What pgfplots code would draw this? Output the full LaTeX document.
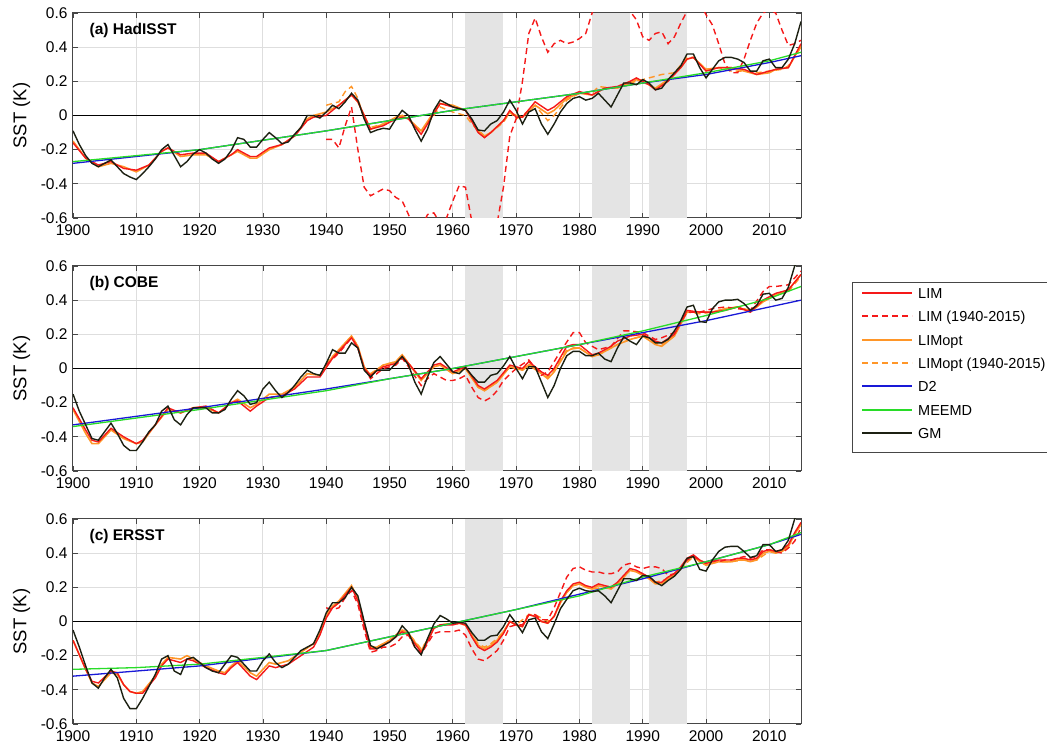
\documentclass[border=0pt]{standalone}
\usepackage{fontspec}
\setmainfont{Liberation Sans}
\usepackage{pgfplots}
\usepackage{pgfplotstable}
\pgfplotsset{compat=1.18}
\definecolor{limred}{RGB}{245,25,25}
\definecolor{limorange}{RGB}{255,150,40}
\definecolor{dtwoblue}{RGB}{25,25,215}
\definecolor{meemdgreen}{RGB}{40,220,40}
\definecolor{gmblack}{RGB}{28,32,18}
\definecolor{bandgray}{RGB}{228,228,228}
\definecolor{gridgray}{RGB}{222,222,222}
\definecolor{axgray}{RGB}{70,70,70}
\pgfplotsset{
  panel/.style={
    scale only axis, width=728pt, height=205pt,
    xmin=1900, xmax=2015, ymin=-0.6, ymax=0.6,
    xtick={1900,1910,...,2010},
    ytick={-0.6,-0.4,-0.2,0,0.2,0.4,0.6},
    yticklabels={-0.6,-0.4,-0.2,0,0.2,0.4,0.6},
    xticklabel style={/pgf/number format/1000 sep={}, yshift=-3pt},
    yticklabel style={xshift=-2pt},
    /pgf/number format/assume math mode=true,
    ticklabel style={font=\fontsize{15.5}{18}\selectfont},
    xtick pos=both, ytick pos=both, tick align=inside,
    major tick length=5pt,
    every tick/.style={axgray, line width=0.8pt},
    grid=major, major grid style={gridgray, line width=1pt},
    axis line style={axgray, line width=1pt},
    ylabel={SST (K)},
    every axis y label/.style={at={(axis description cs:-0.0707,0.5)}, rotate=90, anchor=center, font=\fontsize{18.5}{20}\selectfont},
    clip=true,
  },
  lim/.style={color=limred, line width=1.4pt, solid, forget plot},
  limd/.style={color=limred, line width=1.4pt, dash pattern=on 6pt off 4pt, forget plot},
  limo/.style={color=limorange, line width=1.6pt, solid, forget plot},
  limod/.style={color=limorange, line width=1.4pt, dash pattern=on 6pt off 4pt, forget plot},
  dtwo/.style={color=dtwoblue, line width=1.3pt, solid, forget plot},
  meemd/.style={color=meemdgreen, line width=1.3pt, solid, forget plot},
  gm/.style={color=gmblack, line width=1.4pt, solid, forget plot},
  band/.style={fill=bandgray, draw=none, forget plot},
}
\newcommand{\bands}{%
  \addplot[band] coordinates {(1962,-0.6) (1968,-0.6) (1968,0.6) (1962,0.6)} -- cycle;
  \addplot[band] coordinates {(1982,-0.6) (1988,-0.6) (1988,0.6) (1982,0.6)} -- cycle;
  \addplot[band] coordinates {(1991,-0.6) (1997,-0.6) (1997,0.6) (1991,0.6)} -- cycle;
  \addplot[black, line width=1.5pt, forget plot] coordinates {(1900,0) (2015,0)};
}
\begin{document}
\begin{tikzpicture}
\path[use as bounding box] (0,0) rectangle (1047pt,752pt);
% ---------------- (a) HadISST ----------------
\begin{axis}[panel, at={(73pt,534pt)}, anchor=south west]
\bands
\addplot[limod] coordinates {(1940,0.06) (1941,0.07) (1942,0.08) (1943,0.14) (1944,0.17) (1945,0.10) (1946,-0.02) (1947,-0.07) (1949,-0.05) (1951,-0.02) (1952,0.0) (1953,-0.02) (1955,-0.10) (1957,0.0) (1958,0.05) (1960,0.02) (1962,0.0) (1963,-0.05) (1965,-0.12) (1966,-0.10) (1968,-0.04) (1969,0.02) (1970,-0.02) (1971,0.0) (1973,0.06) (1975,-0.03) (1976,0.0) (1978,0.09) (1980,0.13) (1982,0.13) (1983,0.17) (1985,0.16) (1987,0.18) (1989,0.20) (1991,0.22) (1993,0.24) (1995,0.25) (1997,0.34) (1998,0.34) (2000,0.27) (2002,0.28) (2004,0.26) (2006,0.26) (2008,0.25) (2010,0.26) (2012,0.27) (2013,0.29) (2015,0.40)};
\addplot[limo] coordinates {(1900,-0.15) (1902,-0.25) (1904,-0.30) (1906,-0.28) (1908,-0.30) (1910,-0.33) (1912,-0.29) (1914,-0.21) (1915,-0.19) (1917,-0.24) (1919,-0.23) (1921,-0.23) (1923,-0.27) (1925,-0.23) (1926,-0.21) (1928,-0.25) (1929,-0.25) (1931,-0.20) (1933,-0.17) (1935,-0.12) (1937,-0.02) (1938,0.0) (1940,0.02) (1942,0.06) (1944,0.12) (1945,0.08) (1947,-0.08) (1949,-0.05) (1951,-0.01) (1952,0.0) (1953,-0.02) (1955,-0.09) (1957,0.02) (1958,0.07) (1960,0.06) (1962,0.03) (1964,-0.09) (1965,-0.12) (1966,-0.10) (1968,-0.03) (1969,0.02) (1970,0.0) (1971,-0.01) (1973,0.06) (1975,0.01) (1976,0.03) (1978,0.10) (1980,0.13) (1982,0.12) (1984,0.16) (1986,0.16) (1988,0.19) (1989,0.21) (1991,0.18) (1992,0.16) (1994,0.21) (1996,0.28) (1997,0.33) (1998,0.34) (2000,0.27) (2002,0.28) (2004,0.28) (2006,0.26) (2008,0.24) (2010,0.25) (2011,0.27) (2013,0.28) (2015,0.41)};
\addplot[limd] coordinates {(1940,-0.14) (1941,-0.14) (1942,-0.19) (1943,-0.06) (1944,0.05) (1945,-0.20) (1946,-0.42) (1947,-0.47) (1948,-0.45) (1949,-0.43) (1950,-0.44) (1951,-0.48) (1952,-0.50) (1953,-0.58) (1954,-0.68) (1955,-0.66) (1956,-0.58) (1957,-0.57) (1958,-0.63) (1959,-0.60) (1960,-0.50) (1961,-0.41) (1962,-0.42) (1963,-0.62) (1964,-0.75) (1965,-0.78) (1966,-0.74) (1967,-0.63) (1968,-0.42) (1969,-0.12) (1970,-0.02) (1971,0.20) (1972,0.48) (1973,0.57) (1974,0.46) (1975,0.37) (1976,0.42) (1977,0.44) (1978,0.42) (1979,0.43) (1980,0.45) (1981,0.48) (1982,0.60) (1983,0.70) (1984,0.75) (1985,0.72) (1986,0.70) (1987,0.65) (1988,0.61) (1989,0.56) (1990,0.46) (1991,0.44) (1992,0.48) (1993,0.49) (1994,0.42) (1995,0.46) (1996,0.54) (1997,0.61) (1998,0.68) (1999,0.66) (2000,0.59) (2001,0.53) (2002,0.42) (2003,0.30) (2004,0.25) (2005,0.25) (2006,0.33) (2007,0.44) (2008,0.54) (2009,0.60) (2010,0.62) (2011,0.60) (2012,0.50) (2013,0.41) (2014,0.42) (2015,0.44)};
\addplot[lim] coordinates {(1900,-0.16) (1902,-0.25) (1904,-0.29) (1906,-0.27) (1908,-0.31) (1910,-0.32) (1912,-0.29) (1914,-0.21) (1915,-0.19) (1917,-0.23) (1919,-0.22) (1921,-0.22) (1923,-0.27) (1925,-0.23) (1926,-0.20) (1928,-0.24) (1929,-0.24) (1931,-0.19) (1933,-0.17) (1935,-0.12) (1937,-0.03) (1938,-0.01) (1940,0.0) (1942,0.06) (1944,0.12) (1945,0.08) (1947,-0.08) (1949,-0.06) (1951,-0.02) (1952,-0.01) (1953,-0.02) (1955,-0.11) (1957,0.01) (1958,0.07) (1960,0.05) (1962,0.03) (1964,-0.10) (1965,-0.13) (1966,-0.10) (1968,-0.03) (1969,0.03) (1970,-0.01) (1971,-0.01) (1973,0.08) (1975,0.03) (1976,0.05) (1978,0.11) (1980,0.14) (1982,0.12) (1984,0.16) (1986,0.17) (1988,0.20) (1989,0.22) (1991,0.18) (1992,0.15) (1994,0.20) (1996,0.28) (1997,0.33) (1998,0.34) (2000,0.26) (2002,0.28) (2004,0.28) (2006,0.27) (2008,0.24) (2010,0.26) (2011,0.27) (2013,0.28) (2015,0.42)};
\addplot[dtwo] coordinates {(1900,-0.28) (1920,-0.20) (1940,-0.09) (1960,0.03) (1970,0.08) (1980,0.13) (1990,0.19) (2000,0.24) (2010,0.31) (2015,0.35)};
\addplot[meemd] coordinates {(1900,-0.27) (1920,-0.20) (1940,-0.09) (1960,0.03) (1970,0.08) (1980,0.13) (1990,0.19) (2000,0.25) (2010,0.32) (2015,0.37)};
\addplot[gm] coordinates {(1900,-0.09) (1901,-0.17) (1902,-0.235) (1903,-0.28) (1904,-0.30) (1905,-0.28) (1906,-0.26) (1907,-0.30) (1908,-0.34) (1909,-0.36) (1910,-0.375) (1911,-0.34) (1912,-0.30) (1913,-0.255) (1914,-0.20) (1915,-0.17) (1916,-0.235) (1917,-0.30) (1918,-0.27) (1919,-0.225) (1920,-0.20) (1921,-0.22) (1922,-0.255) (1923,-0.28) (1924,-0.255) (1925,-0.205) (1926,-0.13) (1927,-0.14) (1928,-0.185) (1929,-0.185) (1930,-0.14) (1931,-0.10) (1932,-0.13) (1933,-0.165) (1934,-0.155) (1935,-0.11) (1936,-0.07) (1937,0.0) (1938,0.0) (1939,-0.015) (1940,0.02) (1941,0.06) (1942,0.04) (1943,0.08) (1944,0.13) (1945,0.09) (1946,-0.02) (1947,-0.10) (1948,-0.085) (1949,-0.075) (1950,-0.08) (1951,-0.02) (1952,0.03) (1953,0.0) (1954,-0.08) (1955,-0.15) (1956,-0.08) (1957,0.03) (1958,0.09) (1959,0.07) (1960,0.05) (1961,0.04) (1962,0.03) (1963,-0.02) (1964,-0.085) (1965,-0.09) (1966,-0.05) (1967,-0.03) (1968,0.02) (1969,0.09) (1970,0.03) (1971,-0.05) (1972,0.02) (1973,0.04) (1974,-0.05) (1975,-0.11) (1976,-0.05) (1977,0.02) (1978,0.07) (1979,0.10) (1980,0.11) (1981,0.09) (1982,0.10) (1983,0.13) (1984,0.09) (1985,0.05) (1986,0.12) (1987,0.19) (1988,0.19) (1989,0.18) (1990,0.21) (1991,0.19) (1992,0.15) (1993,0.16) (1994,0.21) (1995,0.25) (1996,0.29) (1997,0.36) (1998,0.36) (1999,0.28) (2000,0.22) (2001,0.27) (2002,0.32) (2003,0.34) (2004,0.34) (2005,0.33) (2006,0.31) (2007,0.26) (2008,0.26) (2009,0.32) (2010,0.33) (2011,0.28) (2012,0.28) (2013,0.33) (2014,0.42) (2015,0.55)};
\node[anchor=west, font=\bfseries\fontsize{15.5}{18}\selectfont] at (rel axis cs:0.018,0.917) {(a) HadISST};
\end{axis}
% ---------------- (b) COBE ----------------
\begin{axis}[panel, at={(73pt,281pt)}, anchor=south west]
\bands
\addplot[limod] coordinates {(1940,0.03) (1942,0.10) (1944,0.19) (1945,0.13) (1946,0.0) (1947,-0.03) (1949,0.02) (1951,0.04) (1952,0.08) (1953,0.03) (1955,-0.06) (1957,0.01) (1958,0.02) (1960,-0.03) (1962,0.0) (1964,-0.11) (1965,-0.13) (1967,-0.08) (1969,0.01) (1971,-0.01) (1972,0.03) (1974,-0.03) (1975,-0.05) (1976,-0.01) (1978,0.11) (1980,0.12) (1982,0.07) (1983,0.08) (1985,0.12) (1986,0.14) (1988,0.17) (1990,0.19) (1992,0.15) (1993,0.14) (1995,0.19) (1997,0.33) (1999,0.32) (2001,0.33) (2003,0.35) (2005,0.36) (2007,0.34) (2009,0.40) (2011,0.43) (2013,0.45) (2015,0.54)};
\addplot[limo] coordinates {(1900,-0.24) (1902,-0.38) (1903,-0.44) (1904,-0.44) (1906,-0.36) (1908,-0.41) (1910,-0.44) (1911,-0.43) (1913,-0.33) (1915,-0.24) (1917,-0.26) (1919,-0.23) (1921,-0.23) (1923,-0.26) (1925,-0.20) (1926,-0.18) (1928,-0.23) (1929,-0.21) (1931,-0.15) (1933,-0.15) (1935,-0.11) (1937,-0.03) (1939,-0.04) (1941,0.07) (1942,0.11) (1944,0.19) (1945,0.13) (1946,0.01) (1947,-0.04) (1949,0.02) (1951,0.04) (1952,0.08) (1953,0.03) (1955,-0.07) (1957,0.01) (1958,0.02) (1960,-0.03) (1962,0.0) (1964,-0.11) (1965,-0.13) (1967,-0.08) (1969,0.01) (1971,-0.01) (1972,0.02) (1974,-0.03) (1975,-0.06) (1976,-0.02) (1978,0.10) (1979,0.12) (1980,0.12) (1982,0.07) (1983,0.08) (1985,0.12) (1986,0.14) (1988,0.17) (1990,0.19) (1992,0.14) (1993,0.13) (1995,0.19) (1997,0.33) (1999,0.33) (2001,0.33) (2003,0.35) (2005,0.36) (2007,0.33) (2009,0.39) (2011,0.43) (2013,0.46) (2015,0.55)};
\addplot[limd] coordinates {(1940,0.02) (1942,0.09) (1944,0.18) (1945,0.12) (1946,0.0) (1947,-0.06) (1949,0.0) (1951,0.02) (1952,0.06) (1953,0.01) (1955,-0.10) (1956,-0.06) (1957,-0.03) (1959,-0.07) (1960,-0.07) (1961,-0.06) (1962,-0.04) (1963,-0.11) (1964,-0.17) (1965,-0.19) (1966,-0.17) (1967,-0.13) (1968,-0.07) (1970,0.0) (1972,0.05) (1974,-0.04) (1975,-0.02) (1977,0.10) (1979,0.21) (1980,0.21) (1981,0.15) (1983,0.11) (1985,0.13) (1987,0.22) (1988,0.22) (1990,0.21) (1992,0.17) (1993,0.18) (1995,0.21) (1997,0.33) (1999,0.33) (2001,0.35) (2003,0.36) (2005,0.35) (2007,0.34) (2009,0.45) (2010,0.48) (2011,0.48) (2013,0.49) (2015,0.57)};
\addplot[lim] coordinates {(1900,-0.23) (1902,-0.36) (1903,-0.42) (1904,-0.43) (1906,-0.35) (1908,-0.40) (1910,-0.44) (1911,-0.42) (1913,-0.33) (1915,-0.23) (1917,-0.26) (1919,-0.23) (1921,-0.22) (1923,-0.26) (1925,-0.20) (1926,-0.19) (1928,-0.25) (1929,-0.22) (1931,-0.17) (1933,-0.16) (1935,-0.12) (1937,-0.05) (1939,-0.05) (1941,0.06) (1942,0.10) (1944,0.18) (1945,0.12) (1946,0.0) (1947,-0.04) (1949,0.01) (1951,0.03) (1952,0.07) (1953,0.03) (1955,-0.06) (1957,0.02) (1958,0.03) (1960,-0.02) (1962,0.01) (1964,-0.10) (1965,-0.12) (1967,-0.07) (1969,0.02) (1971,0.0) (1972,0.04) (1974,-0.02) (1975,-0.04) (1976,0.0) (1978,0.13) (1979,0.14) (1980,0.14) (1982,0.08) (1983,0.09) (1985,0.13) (1986,0.16) (1988,0.19) (1990,0.20) (1992,0.16) (1993,0.15) (1995,0.20) (1997,0.34) (1999,0.33) (2001,0.33) (2003,0.34) (2005,0.36) (2007,0.33) (2009,0.40) (2011,0.44) (2013,0.46) (2015,0.55)};
\addplot[dtwo] coordinates {(1900,-0.33) (1920,-0.23) (1940,-0.12) (1950,-0.06) (1960,0.0) (1970,0.07) (1980,0.14) (1990,0.21) (2000,0.28) (2010,0.36) (2015,0.40)};
\addplot[meemd] coordinates {(1900,-0.34) (1920,-0.24) (1940,-0.13) (1950,-0.06) (1960,0.0) (1970,0.07) (1980,0.14) (1990,0.22) (2000,0.31) (2010,0.41) (2015,0.48)};
\addplot[gm] coordinates {(1900,-0.15) (1901,-0.25) (1902,-0.33) (1903,-0.41) (1904,-0.42) (1905,-0.37) (1906,-0.32) (1907,-0.38) (1908,-0.45) (1909,-0.48) (1910,-0.48) (1911,-0.43) (1912,-0.37) (1913,-0.33) (1914,-0.25) (1915,-0.22) (1916,-0.30) (1917,-0.33) (1918,-0.27) (1919,-0.23) (1920,-0.23) (1921,-0.23) (1922,-0.26) (1923,-0.26) (1924,-0.24) (1925,-0.18) (1926,-0.13) (1927,-0.16) (1928,-0.21) (1929,-0.20) (1930,-0.12) (1931,-0.08) (1932,-0.13) (1933,-0.17) (1934,-0.14) (1935,-0.10) (1936,-0.05) (1937,-0.01) (1938,-0.03) (1939,-0.04) (1940,0.03) (1941,0.11) (1942,0.09) (1943,0.09) (1944,0.15) (1945,0.12) (1946,-0.01) (1947,-0.05) (1948,-0.01) (1949,-0.01) (1950,-0.01) (1951,0.03) (1952,0.07) (1953,0.02) (1954,-0.08) (1955,-0.15) (1956,-0.05) (1957,0.035) (1958,0.07) (1959,0.025) (1960,-0.02) (1961,-0.03) (1962,0.005) (1963,-0.04) (1964,-0.08) (1965,-0.08) (1966,-0.04) (1967,-0.03) (1968,0.015) (1969,0.07) (1970,0.0) (1971,-0.06) (1972,0.01) (1973,0.01) (1974,-0.08) (1975,-0.17) (1976,-0.10) (1977,0.0) (1978,0.075) (1979,0.10) (1980,0.10) (1981,0.075) (1982,0.075) (1983,0.09) (1984,0.055) (1985,0.04) (1986,0.12) (1987,0.185) (1988,0.16) (1989,0.14) (1990,0.19) (1991,0.18) (1992,0.15) (1993,0.15) (1994,0.17) (1995,0.22) (1996,0.28) (1997,0.36) (1998,0.37) (1999,0.275) (2000,0.27) (2001,0.35) (2002,0.39) (2003,0.40) (2004,0.40) (2005,0.405) (2006,0.38) (2007,0.34) (2008,0.37) (2009,0.435) (2010,0.44) (2011,0.40) (2012,0.41) (2013,0.475) (2014,0.60) (2015,0.65)};
\node[anchor=west, font=\bfseries\fontsize{15.5}{18}\selectfont] at (rel axis cs:0.018,0.917) {(b) COBE};
\end{axis}
% ---------------- (c) ERSST ----------------
\begin{axis}[panel, at={(73pt,28pt)}, anchor=south west]
\bands
\addplot[limod] coordinates {(1940,0.05) (1941,0.08) (1942,0.11) (1943,0.15) (1944,0.21) (1945,0.13) (1946,-0.03) (1947,-0.15) (1948,-0.15) (1950,-0.11) (1952,-0.05) (1953,-0.07) (1955,-0.16) (1956,-0.11) (1957,-0.04) (1958,-0.02) (1960,-0.01) (1962,-0.02) (1963,-0.08) (1964,-0.13) (1965,-0.15) (1966,-0.13) (1967,-0.10) (1968,-0.06) (1969,0.0) (1970,-0.02) (1972,0.04) (1973,0.04) (1975,0.0) (1976,0.03) (1977,0.11) (1978,0.17) (1979,0.21) (1980,0.22) (1982,0.19) (1984,0.20) (1986,0.22) (1988,0.30) (1990,0.28) (1992,0.23) (1994,0.25) (1996,0.31) (1998,0.38) (2000,0.33) (2002,0.35) (2004,0.35) (2006,0.36) (2008,0.36) (2010,0.41) (2012,0.41) (2013,0.44) (2015,0.57)};
\addplot[limo] coordinates {(1900,-0.11) (1902,-0.28) (1903,-0.36) (1904,-0.38) (1906,-0.30) (1907,-0.31) (1908,-0.37) (1909,-0.41) (1910,-0.42) (1911,-0.41) (1913,-0.32) (1914,-0.25) (1915,-0.21) (1917,-0.22) (1918,-0.20) (1919,-0.22) (1921,-0.26) (1923,-0.29) (1924,-0.30) (1925,-0.26) (1926,-0.23) (1928,-0.30) (1929,-0.32) (1931,-0.24) (1932,-0.25) (1934,-0.23) (1936,-0.18) (1938,-0.13) (1939,-0.07) (1940,0.03) (1941,0.09) (1942,0.12) (1944,0.21) (1945,0.13) (1947,-0.15) (1948,-0.15) (1950,-0.11) (1952,-0.05) (1953,-0.07) (1955,-0.17) (1956,-0.11) (1957,-0.04) (1958,-0.02) (1960,-0.01) (1961,-0.01) (1962,-0.02) (1963,-0.08) (1964,-0.14) (1965,-0.16) (1966,-0.14) (1967,-0.11) (1968,-0.06) (1969,0.0) (1970,-0.02) (1971,-0.03) (1972,0.04) (1973,0.03) (1974,0.0) (1975,-0.01) (1976,0.03) (1977,0.11) (1978,0.17) (1979,0.21) (1980,0.22) (1981,0.20) (1982,0.19) (1983,0.21) (1984,0.20) (1985,0.19) (1986,0.22) (1987,0.26) (1988,0.30) (1989,0.29) (1990,0.27) (1991,0.25) (1992,0.22) (1993,0.22) (1994,0.25) (1995,0.27) (1996,0.31) (1997,0.36) (1998,0.38) (1999,0.35) (2000,0.33) (2001,0.34) (2002,0.35) (2003,0.35) (2004,0.35) (2005,0.36) (2006,0.36) (2007,0.35) (2008,0.36) (2009,0.40) (2010,0.41) (2011,0.40) (2012,0.41) (2013,0.44) (2014,0.51) (2015,0.57)};
\addplot[limd] coordinates {(1940,0.08) (1941,0.07) (1942,0.08) (1943,0.14) (1944,0.18) (1945,0.10) (1946,-0.05) (1947,-0.18) (1948,-0.17) (1949,-0.15) (1950,-0.15) (1951,-0.13) (1952,-0.09) (1953,-0.08) (1954,-0.15) (1955,-0.19) (1956,-0.13) (1957,-0.07) (1958,-0.06) (1959,-0.06) (1960,-0.06) (1961,-0.05) (1962,-0.08) (1963,-0.16) (1964,-0.22) (1965,-0.23) (1966,-0.20) (1967,-0.17) (1968,-0.11) (1969,-0.03) (1970,-0.02) (1971,-0.02) (1972,0.04) (1973,0.04) (1974,0.01) (1975,0.01) (1976,0.08) (1977,0.17) (1978,0.26) (1979,0.31) (1980,0.32) (1981,0.30) (1982,0.29) (1983,0.29) (1984,0.28) (1985,0.28) (1986,0.29) (1987,0.33) (1988,0.34) (1989,0.32) (1990,0.31) (1991,0.32) (1992,0.32) (1993,0.31) (1994,0.27) (1995,0.28) (1996,0.31) (1997,0.36) (1998,0.38) (1999,0.36) (2000,0.34) (2001,0.36) (2002,0.35) (2003,0.36) (2004,0.36) (2005,0.37) (2006,0.38) (2007,0.37) (2008,0.38) (2009,0.42) (2010,0.42) (2011,0.41) (2012,0.40) (2013,0.43) (2014,0.47) (2015,0.55)};
\addplot[lim] coordinates {(1900,-0.11) (1902,-0.28) (1903,-0.35) (1904,-0.36) (1906,-0.29) (1907,-0.30) (1908,-0.37) (1909,-0.41) (1910,-0.42) (1911,-0.42) (1913,-0.33) (1914,-0.26) (1915,-0.22) (1917,-0.24) (1918,-0.22) (1919,-0.23) (1921,-0.27) (1923,-0.30) (1924,-0.31) (1925,-0.27) (1926,-0.24) (1928,-0.32) (1929,-0.34) (1931,-0.26) (1932,-0.27) (1934,-0.25) (1936,-0.20) (1938,-0.15) (1939,-0.08) (1940,0.02) (1941,0.08) (1942,0.11) (1944,0.20) (1945,0.12) (1947,-0.16) (1948,-0.16) (1950,-0.12) (1952,-0.06) (1953,-0.08) (1955,-0.18) (1956,-0.12) (1957,-0.04) (1958,-0.02) (1960,-0.02) (1961,-0.01) (1962,-0.02) (1963,-0.09) (1964,-0.15) (1965,-0.17) (1966,-0.15) (1967,-0.12) (1968,-0.07) (1969,0.0) (1970,-0.02) (1971,-0.03) (1972,0.04) (1973,0.03) (1974,0.0) (1975,-0.01) (1976,0.03) (1977,0.12) (1978,0.18) (1979,0.22) (1980,0.23) (1981,0.21) (1982,0.20) (1983,0.22) (1984,0.21) (1985,0.20) (1986,0.23) (1987,0.27) (1988,0.31) (1989,0.30) (1990,0.28) (1991,0.26) (1992,0.23) (1993,0.23) (1994,0.26) (1995,0.28) (1996,0.32) (1997,0.37) (1998,0.39) (1999,0.36) (2000,0.34) (2001,0.35) (2002,0.36) (2003,0.36) (2004,0.36) (2005,0.37) (2006,0.37) (2007,0.36) (2008,0.37) (2009,0.41) (2010,0.42) (2011,0.41) (2012,0.42) (2013,0.45) (2014,0.52) (2015,0.58)};
\addplot[dtwo] coordinates {(1900,-0.32) (1920,-0.26) (1940,-0.17) (1950,-0.09) (1960,-0.01) (1970,0.07) (1980,0.16) (1990,0.25) (2000,0.35) (2010,0.45) (2015,0.51)};
\addplot[meemd] coordinates {(1900,-0.28) (1910,-0.27) (1920,-0.25) (1930,-0.21) (1940,-0.17) (1950,-0.09) (1960,-0.01) (1970,0.07) (1980,0.15) (1990,0.26) (2000,0.35) (2010,0.45) (2015,0.52)};
\addplot[gm] coordinates {(1900,-0.05) (1901,-0.15) (1902,-0.26) (1903,-0.36) (1904,-0.39) (1905,-0.33) (1906,-0.28) (1907,-0.33) (1908,-0.45) (1909,-0.51) (1910,-0.51) (1911,-0.45) (1912,-0.38) (1913,-0.31) (1914,-0.22) (1915,-0.20) (1916,-0.29) (1917,-0.31) (1918,-0.22) (1919,-0.21) (1920,-0.24) (1921,-0.27) (1922,-0.29) (1923,-0.30) (1924,-0.25) (1925,-0.20) (1926,-0.21) (1927,-0.25) (1928,-0.29) (1929,-0.29) (1930,-0.23) (1931,-0.19) (1932,-0.24) (1933,-0.27) (1934,-0.25) (1935,-0.21) (1936,-0.17) (1937,-0.15) (1938,-0.13) (1939,-0.05) (1940,0.05) (1941,0.11) (1942,0.11) (1943,0.14) (1944,0.20) (1945,0.15) (1946,0.0) (1947,-0.14) (1948,-0.16) (1949,-0.14) (1950,-0.12) (1951,-0.09) (1952,-0.025) (1953,-0.065) (1954,-0.15) (1955,-0.195) (1956,-0.10) (1957,-0.015) (1958,0.035) (1959,0.015) (1960,-0.01) (1961,-0.005) (1962,-0.01) (1963,-0.065) (1964,-0.11) (1965,-0.11) (1966,-0.085) (1967,-0.08) (1968,-0.03) (1969,0.04) (1970,-0.01) (1971,-0.065) (1972,0.01) (1973,0.02) (1974,-0.06) (1975,-0.10) (1976,-0.015) (1977,0.075) (1978,0.13) (1979,0.18) (1980,0.195) (1981,0.18) (1982,0.175) (1983,0.18) (1984,0.15) (1985,0.11) (1986,0.18) (1987,0.25) (1988,0.25) (1989,0.24) (1990,0.27) (1991,0.265) (1992,0.23) (1993,0.21) (1994,0.24) (1995,0.265) (1996,0.305) (1997,0.37) (1998,0.38) (1999,0.305) (2000,0.295) (2001,0.36) (2002,0.41) (2003,0.435) (2004,0.44) (2005,0.44) (2006,0.41) (2007,0.375) (2008,0.385) (2009,0.45) (2010,0.45) (2011,0.41) (2012,0.42) (2013,0.475) (2014,0.60) (2015,0.65)};
\node[anchor=west, font=\bfseries\fontsize{15.5}{18}\selectfont] at (rel axis cs:0.018,0.917) {(c) ERSST};
\end{axis}
% ---------------- legend ----------------
\draw[axgray, line width=1pt] (852pt,299pt) rectangle (1060pt,469pt);
\begin{scope}[every node/.style={anchor=base west, inner sep=0pt, font=\fontsize{14.5}{17}\selectfont}]
\draw[limred, line width=1.5pt] (862pt,459pt) -- (912pt,459pt);
\node at (918pt,453.8pt) {LIM};
\draw[limred, line width=1.5pt, dash pattern=on 6pt off 4pt] (862pt,436pt) -- (912pt,436pt);
\node at (918pt,430.8pt) {LIM (1940-2015)};
\draw[limorange, line width=1.5pt] (862pt,412pt) -- (912pt,412pt);
\node at (918pt,406.8pt) {LIMopt};
\draw[limorange, line width=1.5pt, dash pattern=on 6pt off 4pt] (862pt,389pt) -- (912pt,389pt);
\node at (918pt,383.8pt) {LIMopt (1940-2015)};
\draw[dtwoblue, line width=1.5pt] (862pt,366pt) -- (912pt,366pt);
\node at (918pt,360.8pt) {D2};
\draw[meemdgreen, line width=1.5pt] (862pt,342pt) -- (912pt,342pt);
\node at (918pt,336.8pt) {MEEMD};
\draw[gmblack, line width=1.5pt] (862pt,319pt) -- (912pt,319pt);
\node at (918pt,313.8pt) {GM};
\end{scope}
\end{tikzpicture}
\end{document}
